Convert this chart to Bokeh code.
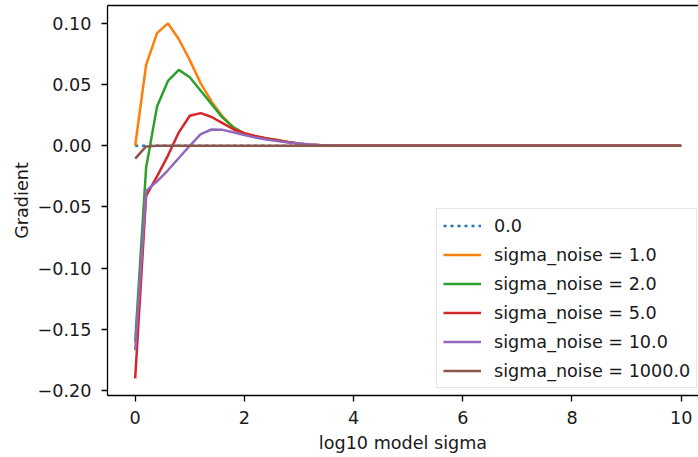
from bokeh.plotting import figure
from bokeh.models import Range1d, LinearAxis, FixedTicker
from bokeh.embed import file_html
from bokeh.resources import INLINE

# ---- data ----
x_log10_sigma = [0.0, 0.2, 0.4, 0.6, 0.8, 1.0, 1.2, 1.4, 1.6, 1.8,
                 2.0, 2.2, 2.4, 2.6, 2.8, 3.0, 3.2, 3.4, 3.6, 3.8,
                 4.0, 4.2, 4.4, 4.6, 4.8, 5.0, 5.2, 5.4, 5.6, 5.8,
                 6.0, 6.2, 6.4, 6.6, 6.8, 7.0, 7.2, 7.4, 7.6, 7.8,
                 8.0, 8.2, 8.4, 8.6, 8.8, 9.0, 9.2, 9.4, 9.6, 9.8, 10.0]

grad_zero = [0.0, 0.0, 0.0, 0.0, 0.0, 0.0, 0.0, 0.0, 0.0, 0.0,
             0.0, 0.0, 0.0, 0.0, 0.0, 0.0, 0.0, 0.0, 0.0, 0.0,
             0.0, 0.0, 0.0, 0.0, 0.0, 0.0, 0.0, 0.0, 0.0, 0.0,
             0.0, 0.0, 0.0, 0.0, 0.0, 0.0, 0.0, 0.0, 0.0, 0.0,
             0.0, 0.0, 0.0, 0.0, 0.0, 0.0, 0.0, 0.0, 0.0, 0.0, 0.0]

grad_noise_1 = [0.000, 0.066, 0.092, 0.100, 0.087, 0.070, 0.051, 0.036, 0.024, 0.015,
                0.010, 0.0078, 0.0062, 0.0047, 0.0032, 0.0018, 0.0009, 0.0004, 0.0002, 0.0001,
                0.0, 0.0, 0.0, 0.0, 0.0, 0.0, 0.0, 0.0, 0.0, 0.0,
                0.0, 0.0, 0.0, 0.0, 0.0, 0.0, 0.0, 0.0, 0.0, 0.0,
                0.0, 0.0, 0.0, 0.0, 0.0, 0.0, 0.0, 0.0, 0.0, 0.0, 0.0]

grad_noise_2 = [-0.160, -0.018, 0.032, 0.053, 0.062, 0.056, 0.045, 0.034, 0.023, 0.015,
                0.0098, 0.0077, 0.0060, 0.0046, 0.0031, 0.0017, 0.0009, 0.0004, 0.0002, 0.0001,
                0.0, 0.0, 0.0, 0.0, 0.0, 0.0, 0.0, 0.0, 0.0, 0.0,
                0.0, 0.0, 0.0, 0.0, 0.0, 0.0, 0.0, 0.0, 0.0, 0.0,
                0.0, 0.0, 0.0, 0.0, 0.0, 0.0, 0.0, 0.0, 0.0, 0.0, 0.0]

grad_noise_5 = [-0.190, -0.041, -0.025, -0.008, 0.011, 0.0245, 0.0267, 0.0235, 0.0185, 0.0135,
                0.0102, 0.0080, 0.0060, 0.0045, 0.0030, 0.0017, 0.0009, 0.0004, 0.0002, 0.0001,
                0.0, 0.0, 0.0, 0.0, 0.0, 0.0, 0.0, 0.0, 0.0, 0.0,
                0.0, 0.0, 0.0, 0.0, 0.0, 0.0, 0.0, 0.0, 0.0, 0.0,
                0.0, 0.0, 0.0, 0.0, 0.0, 0.0, 0.0, 0.0, 0.0, 0.0, 0.0]

grad_noise_10 = [-0.167, -0.037, -0.029, -0.020, -0.010, 0.000, 0.0095, 0.0133, 0.0130, 0.0110,
                 0.0088, 0.0068, 0.0052, 0.0038, 0.0027, 0.0018, 0.0010, 0.0005, 0.0002, 0.0001,
                 0.0, 0.0, 0.0, 0.0, 0.0, 0.0, 0.0, 0.0, 0.0, 0.0,
                 0.0, 0.0, 0.0, 0.0, 0.0, 0.0, 0.0, 0.0, 0.0, 0.0,
                 0.0, 0.0, 0.0, 0.0, 0.0, 0.0, 0.0, 0.0, 0.0, 0.0, 0.0]

grad_noise_1000 = [-0.0105, -0.0005, 0.0, 0.0, 0.0, 0.0, 0.0, 0.0, 0.0, 0.0,
                   0.0, 0.0, 0.0, 0.0, 0.0, 0.0, 0.0, 0.0, 0.0, 0.0,
                   0.0, 0.0, 0.0, 0.0, 0.0, 0.0, 0.0, 0.0, 0.0, 0.0,
                   0.0, 0.0, 0.0, 0.0, 0.0, 0.0, 0.0, 0.0, 0.0, 0.0,
                   0.0, 0.0, 0.0, 0.0, 0.0, 0.0, 0.0, 0.0, 0.0, 0.0, 0.0]

series_labels = ["0.0", "sigma_noise = 1.0", "sigma_noise = 2.0",
                 "sigma_noise = 5.0", "sigma_noise = 10.0", "sigma_noise = 1000.0"]
series_colors = ["#1f77b4", "#ff7f0e", "#2ca02c", "#d62728", "#9467bd", "#8c564b"]

x_ticks = [0, 2, 4, 6, 8, 10]
y_ticks = [-0.20, -0.15, -0.10, -0.05, 0.00, 0.05, 0.10]
y_tick_labels = ["\u22120.20", "\u22120.15", "\u22120.10", "\u22120.05", "0.00", "0.05", "0.10"]

FONT = "DejaVu Sans"
FS = "17.6px"

p = figure(width=698, height=457, output_backend="svg", toolbar_location=None,
           x_range=Range1d(-0.507, 10.317), y_range=Range1d(-0.2040, 0.1146),
           min_border_left=107, min_border_right=0, min_border_top=5, min_border_bottom=62,
           x_axis_label="log10 model sigma", y_axis_label="Gradient")
p.outline_line_color = None
p.grid.visible = False
p.background_fill_color = "white"
p.border_fill_color = "white"

for ax in (p.xaxis[0], p.yaxis[0]):
    ax.axis_line_color = "black"
    ax.axis_line_width = 1.3
    ax.major_tick_line_color = "black"
    ax.major_tick_line_width = 1.3
    ax.major_tick_out = 6
    ax.major_tick_in = 0
    ax.minor_tick_out = 0
    ax.minor_tick_in = 0
    ax.major_label_text_font = FONT
    ax.major_label_text_font_size = FS
    ax.major_label_text_color = "#1a1a1a"
    ax.axis_label_text_font = FONT
    ax.axis_label_text_font_size = FS
    ax.axis_label_text_font_style = "normal"
    ax.axis_label_text_color = "#1a1a1a"

p.xaxis[0].ticker = FixedTicker(ticks=x_ticks)
p.xaxis[0].major_label_standoff = 9
p.xaxis[0].axis_label_standoff = 6
p.yaxis[0].ticker = FixedTicker(ticks=y_ticks)
p.yaxis[0].major_label_overrides = {t: l for t, l in zip(y_ticks, y_tick_labels)}
p.yaxis[0].major_label_standoff = 10
p.yaxis[0].axis_label_standoff = 3

# top spine
top = LinearAxis(ticker=FixedTicker(ticks=[]), major_label_text_font_size="0px",
                 major_tick_out=0, major_tick_in=0, minor_tick_out=0, minor_tick_in=0,
                 major_label_standoff=0, axis_line_color="black", axis_line_width=1.3)
p.add_layout(top, "above")

all_series = [grad_zero, grad_noise_1, grad_noise_2, grad_noise_5, grad_noise_10, grad_noise_1000]
for i, (ys, lab, col) in enumerate(zip(all_series, series_labels, series_colors)):
    if i == 0:
        p.line(x_log10_sigma, ys, line_color=col, line_width=2.5, line_dash="3 4",
               legend_label=lab)
    else:
        p.line(x_log10_sigma, ys, line_color=col, line_width=2.5, legend_label=lab)

lg = p.legend[0]
lg.location = (329, 7)
lg.label_text_font = FONT
lg.label_text_font_size = FS
lg.label_text_color = "#1a1a1a"
lg.glyph_width = 38
lg.glyph_height = 21
lg.label_height = 21
lg.label_standoff = 13
lg.spacing = 8
lg.padding = 6
lg.margin = 0
lg.border_line_color = "#cccccc"
lg.border_line_width = 1
lg.background_fill_alpha = 0.8

open("out.html", "w").write(file_html(p, INLINE))
